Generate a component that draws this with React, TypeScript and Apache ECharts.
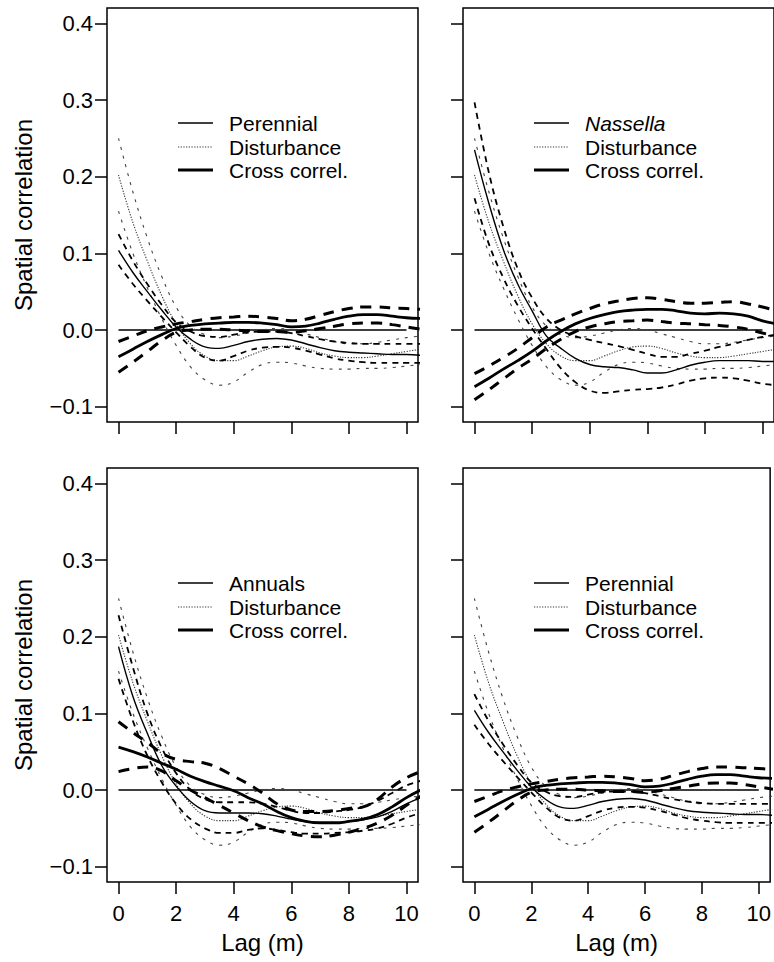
import React, { useEffect, useRef } from "react";
import * as echarts from "echarts";

// Lag values (m)
const lags = [0, 0.5, 1, 1.5, 2, 2.5, 3, 3.5, 4, 4.5, 5, 5.5, 6, 6.5, 7, 7.5, 8, 8.5, 9, 9.5, 10, 10.5];
const xTicks = [0, 2, 4, 6, 8, 10];
const yTicks = [-0.1, 0, 0.1, 0.2, 0.3, 0.4];
const zeroLine = [[0, 0], [10, 0]];

// Disturbance (same in every panel)
const distMean = [0.202, 0.14, 0.09, 0.045, 0.008, -0.018, -0.034, -0.04, -0.04, -0.034, -0.027, -0.022, -0.021, -0.024, -0.03, -0.034, -0.036, -0.036, -0.034, -0.031, -0.028, -0.025];
const distUpper = [0.25, 0.18, 0.12, 0.07, 0.03, 0.005, -0.006, -0.01, -0.008, -0.004, 0.0, 0.002, 0.0, -0.005, -0.01, -0.015, -0.018, -0.018, -0.016, -0.013, -0.01, -0.008];
const distLower = [0.155, 0.1, 0.055, 0.015, -0.02, -0.048, -0.065, -0.072, -0.068, -0.055, -0.045, -0.042, -0.043, -0.047, -0.05, -0.051, -0.051, -0.05, -0.05, -0.049, -0.047, -0.045];

// Perennial (top-left and bottom-right panels)
const perMean = [0.104, 0.075, 0.05, 0.026, 0.004, -0.012, -0.022, -0.024, -0.02, -0.015, -0.012, -0.011, -0.013, -0.018, -0.023, -0.027, -0.029, -0.03, -0.031, -0.032, -0.032, -0.033];
const perUpper = [0.125, 0.09, 0.06, 0.033, 0.01, -0.002, -0.008, -0.009, -0.006, -0.003, -0.002, -0.002, -0.004, -0.008, -0.012, -0.015, -0.017, -0.018, -0.018, -0.018, -0.018, -0.018];
const perLower = [0.085, 0.06, 0.038, 0.017, -0.003, -0.022, -0.036, -0.04, -0.034, -0.027, -0.023, -0.022, -0.023, -0.027, -0.032, -0.037, -0.04, -0.042, -0.043, -0.043, -0.043, -0.043];
const perCross = [-0.035, -0.025, -0.015, -0.006, 0.002, 0.006, 0.008, 0.009, 0.01, 0.01, 0.009, 0.007, 0.004, 0.005, 0.009, 0.014, 0.018, 0.02, 0.02, 0.018, 0.016, 0.015];
const perCrossUpper = [-0.015, -0.008, -0.001, 0.004, 0.008, 0.011, 0.014, 0.016, 0.017, 0.018, 0.017, 0.015, 0.012, 0.014, 0.019, 0.024, 0.028, 0.03, 0.03, 0.029, 0.028, 0.027];
const perCrossLower = [-0.055, -0.042, -0.028, -0.014, -0.003, 0.0, 0.001, 0.001, 0.0, -0.001, -0.002, -0.002, -0.003, -0.001, 0.002, 0.005, 0.008, 0.009, 0.009, 0.007, 0.004, 0.001];

// Nassella (top-right panel)
const nasMean = [0.235, 0.165, 0.105, 0.06, 0.025, -0.008, -0.024, -0.037, -0.045, -0.048, -0.049, -0.052, -0.056, -0.056, -0.052, -0.046, -0.042, -0.04, -0.04, -0.04, -0.041, -0.041];
const nasUpper = [0.297, 0.205, 0.135, 0.08, 0.042, 0.015, 0.0, -0.008, -0.013, -0.017, -0.021, -0.026, -0.031, -0.035, -0.035, -0.031, -0.027, -0.022, -0.018, -0.013, -0.009, -0.006];
const nasLower = [0.172, 0.112, 0.068, 0.032, 0.002, -0.025, -0.05, -0.068, -0.079, -0.082, -0.08, -0.078, -0.077, -0.075, -0.071, -0.066, -0.063, -0.062, -0.063, -0.066, -0.07, -0.072];
const nasCross = [-0.074, -0.063, -0.051, -0.04, -0.028, -0.014, -0.002, 0.008, 0.015, 0.02, 0.024, 0.026, 0.027, 0.027, 0.025, 0.022, 0.021, 0.022, 0.021, 0.018, 0.012, 0.008];
const nasCrossUpper = [-0.057, -0.047, -0.036, -0.024, -0.01, 0.004, 0.013, 0.021, 0.028, 0.034, 0.038, 0.041, 0.042, 0.04, 0.037, 0.035, 0.035, 0.036, 0.037, 0.034, 0.03, 0.025];
const nasCrossLower = [-0.091, -0.078, -0.064, -0.05, -0.038, -0.024, -0.012, -0.002, 0.004, 0.008, 0.011, 0.012, 0.013, 0.011, 0.009, 0.008, 0.007, 0.006, 0.004, 0.001, -0.004, -0.008];

// Annuals (bottom-left panel)
const annMean = [0.187, 0.122, 0.074, 0.032, 0.005, -0.015, -0.027, -0.03, -0.03, -0.03, -0.031, -0.034, -0.038, -0.041, -0.042, -0.042, -0.041, -0.039, -0.035, -0.028, -0.018, -0.01];
const annUpper = [0.228, 0.16, 0.1, 0.055, 0.022, 0.0, -0.012, -0.016, -0.016, -0.016, -0.018, -0.022, -0.027, -0.03, -0.03, -0.028, -0.026, -0.022, -0.014, -0.004, 0.006, 0.012];
const annLower = [0.145, 0.09, 0.045, 0.01, -0.018, -0.038, -0.05, -0.056, -0.056, -0.052, -0.05, -0.052, -0.055, -0.057, -0.057, -0.056, -0.055, -0.053, -0.05, -0.044, -0.036, -0.03];
const annCross = [0.056, 0.05, 0.043, 0.035, 0.027, 0.018, 0.011, 0.005, -0.001, -0.01, -0.018, -0.028, -0.036, -0.041, -0.043, -0.043, -0.041, -0.038, -0.032, -0.022, -0.01, 0.0];
const annCrossUpper = [0.089, 0.075, 0.062, 0.048, 0.04, 0.037, 0.035, 0.028, 0.018, 0.008, -0.004, -0.018, -0.026, -0.028, -0.028, -0.027, -0.024, -0.022, -0.012, 0.004, 0.016, 0.024];
const annCrossLower = [0.024, 0.028, 0.03, 0.025, 0.012, 0.0, -0.01, -0.02, -0.03, -0.04, -0.048, -0.053, -0.057, -0.06, -0.061, -0.059, -0.055, -0.05, -0.043, -0.033, -0.02, -0.008];

const legendLabels = [
  ["Perennial", "Disturbance", "Cross correl."],
  ["Nassella", "Disturbance", "Cross correl."],
  ["Annuals", "Disturbance", "Cross correl."],
  ["Perennial", "Disturbance", "Cross correl."],
];

const panels = [
  { mean: perMean, upper: perUpper, lower: perLower, cross: perCross, cUp: perCrossUpper, cLo: perCrossLower },
  { mean: nasMean, upper: nasUpper, lower: nasLower, cross: nasCross, cUp: nasCrossUpper, cLo: nasCrossLower },
  { mean: annMean, upper: annUpper, lower: annLower, cross: annCross, cUp: annCrossUpper, cLo: annCrossLower },
  { mean: perMean, upper: perUpper, lower: perLower, cross: perCross, cUp: perCrossUpper, cLo: perCrossLower },
];

const FONT = "'Liberation Sans', Arial, Helvetica, sans-serif";
const gridPos = [
  { left: 107, top: 8 },
  { left: 463, top: 8 },
  { left: 107, top: 468 },
  { left: 463, top: 468 },
];
const GW = 311;
const GH = 414;

const styles = {
  zero: { color: "#000", width: 1.5, type: "solid" },
  mean: { color: "#000", width: 1.4, type: "solid" },
  env: { color: "#000", width: 1.8, type: [6, 5] },
  dist: { color: "#333", width: 1.1, type: [1.2, 1.5] },
  distEnv: { color: "#444", width: 1.1, type: [3, 6] },
  cross: { color: "#000", width: 2.8, type: "solid" },
  crossEnv: { color: "#000", width: 3, type: [11, 8] },
};

function toPts(arr: number[]) {
  return lags.map((x, i) => [x, arr[i]]);
}

export default function App() {
  const ref = useRef<HTMLDivElement>(null);
  useEffect(() => {
    if (!ref.current) return;
    const chart = echarts.init(ref.current, undefined, { renderer: "svg" });

    const grids = gridPos.map((g) => ({
      left: g.left,
      top: g.top,
      width: GW,
      height: GH,
      show: true,
      borderColor: "#000",
      borderWidth: 1.5,
      backgroundColor: "transparent",
      containLabel: false,
    }));

    const xAxes = gridPos.map((_, i) => ({
      type: "value",
      gridIndex: i,
      position: "bottom",
      min: -0.4,
      max: 10.4,
      axisLine: { show: false, onZero: false },
      splitLine: { show: false },
      axisTick: {
        show: true,
        inside: false,
        length: 12,
        customValues: xTicks,
        lineStyle: { color: "#000", width: 1.5 },
      },
      axisLabel: {
        show: i >= 2,
        customValues: xTicks,
        fontSize: 22,
        fontFamily: FONT,
        color: "#000",
        margin: 20,
        formatter: (v: number) => String(v),
      },
      name: i >= 2 ? "Lag (m)" : "",
      nameLocation: "middle",
      nameGap: 48,
      nameTextStyle: { fontSize: 24, fontFamily: FONT, color: "#000" },
    }));

    const yAxes = gridPos.map((_, i) => ({
      type: "value",
      gridIndex: i,
      position: "left",
      min: -0.12,
      max: 0.42,
      axisLine: { show: false, onZero: false },
      splitLine: { show: false },
      axisTick: {
        show: true,
        inside: false,
        length: 12,
        customValues: yTicks,
        lineStyle: { color: "#000", width: 1.5 },
      },
      axisLabel: {
        show: i % 2 === 0,
        customValues: yTicks,
        fontSize: 22,
        fontFamily: FONT,
        color: "#000",
        margin: 14,
        formatter: (v: number) => v.toFixed(1).replace("-", "\u2212"),
      },
      name: i % 2 === 0 ? "Spatial correlation" : "",
      nameLocation: "middle",
      nameGap: 72,
      nameTextStyle: { fontSize: 24, fontFamily: FONT, color: "#000" },
    }));

    const series: any[] = [];
    const add = (i: number, data: number[][], ls: any, z: number) => {
      series.push({
        type: "line",
        xAxisIndex: i,
        yAxisIndex: i,
        data,
        showSymbol: false,
        symbol: "none",
        smooth: 0.4,
        silent: true,
        clip: true,
        z,
        lineStyle: { ...ls },
      });
    };
    panels.forEach((p, i) => {
      add(i, zeroLine, styles.zero, 2);
      add(i, toPts(distUpper), styles.distEnv, 3);
      add(i, toPts(distLower), styles.distEnv, 3);
      add(i, toPts(distMean), styles.dist, 3);
      add(i, toPts(p.upper), styles.env, 4);
      add(i, toPts(p.lower), styles.env, 4);
      add(i, toPts(p.mean), styles.mean, 5);
      add(i, toPts(p.cUp), styles.crossEnv, 6);
      add(i, toPts(p.cLo), styles.crossEnv, 6);
      add(i, toPts(p.cross), styles.cross, 7);
    });

    const legendStyles = [styles.mean, styles.dist, styles.cross];
    const rowOffsets = [115, 139, 162];
    const graphic: any[] = [];
    gridPos.forEach((g, i) => {
      legendLabels[i].forEach((label, r) => {
        const y = g.top + rowOffsets[r];
        const ls = legendStyles[r];
        graphic.push({
          type: "line",
          shape: { x1: g.left + 71, y1: y, x2: g.left + 106, y2: y },
          style: {
            stroke: ls.color,
            lineWidth: ls.width,
            lineDash: Array.isArray(ls.type) ? ls.type : null,
          },
          silent: true,
        });
        graphic.push({
          type: "text",
          x: g.left + 122,
          y,
          style: {
            text: label,
            fontSize: 21,
            fontFamily: FONT,
            fontStyle: i === 1 && r === 0 ? "italic" : "normal",
            fill: "#000",
            verticalAlign: "middle",
            align: "left",
          },
          silent: true,
        });
      });
    });

    chart.setOption({
      animation: false,
      backgroundColor: "#fff",
      grid: grids,
      xAxis: xAxes,
      yAxis: yAxes,
      series,
      graphic,
    });
    return () => chart.dispose();
  }, []);

  return (
    <div
      ref={ref}
      style={{ position: "absolute", left: 0, top: 0, width: 774, height: 962, background: "#fff" }}
    />
  );
}
